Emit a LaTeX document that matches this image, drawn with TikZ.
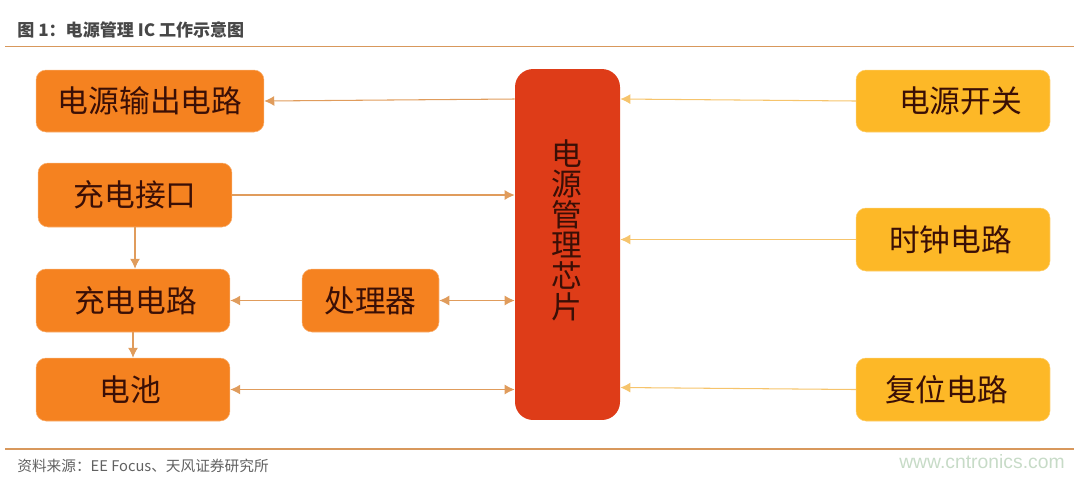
\documentclass[tikz,border=0pt]{standalone}
\usepackage{fontspec}
\usepackage{xcolor}
\setmainfont{Noto Sans CJK SC}
\newfontfamily\webfont{Liberation Sans}
\usetikzlibrary{arrows.meta}
\usetikzlibrary{calc}
\definecolor{boxorange}{HTML}{F58220}
\definecolor{boxyellow}{HTML}{FDB827}
\definecolor{chipred}{HTML}{DE3C18}
\definecolor{linetan}{HTML}{E09C5C}
\definecolor{lineyellow}{HTML}{F6C46C}
\definecolor{rulecol}{HTML}{D8985C}
\definecolor{labeldark}{HTML}{3A0F06}
\tikzset{
    block/.style={rectangle, rounded corners=0.2cm, text=labeldark, font=\fontsize{17.5}{20}\selectfont, inner sep=0pt},
    orangebox/.style={block, fill=boxorange, draw=boxorange!65, line width=0.3pt},
    yellowbox/.style={block, fill=boxyellow, draw=boxyellow!70, line width=0.3pt},
    link/.style={draw=linetan, line width=0.6pt, -{Latex[length=0.2cm,width=0.2cm]}},
    biglink/.style={link, {Latex[length=0.2cm,width=0.2cm]}-{Latex[length=0.2cm,width=0.2cm]}},
    powerlink/.style={link, draw=lineyellow, -{Latex[length=0.2cm,width=0.2cm,fill=lineyellow]}},
    rule/.style={draw=rulecol, line width=1.1pt}
}
\begin{document}
\begin{tikzpicture}[x=0.02cm,y=-0.02cm]
    \useasboundingbox (0,0) rectangle (1084,478);

    % Heading and source line
    \node[anchor=west, inner sep=0pt, text=black!72, font=\fontsize{9.7}{11}\selectfont\bfseries] (title) at (17,30) {图 1：电源管理 IC 工作示意图};
    \coordinate (topl) at (5,46.5);
    \coordinate (topr) at (1074,46.5);
    \draw[rule] (topl) -- (topr);
    \coordinate (botl) at (5,449);
    \coordinate (botr) at (1074,449);
    \draw[rule] (botl) -- (botr);
    \node[anchor=west, inner sep=0pt, text=black!62, font=\fontsize{8.35}{10}\selectfont] (source) at (17,466) {资料来源：EE Focus、天风证券研究所};
    \node[anchor=east, inner sep=0pt, text=green!35!black!22, font=\fontsize{11}{12}\selectfont\webfont] (web) at (1065,462) {www.cntronics.com};

    % Chip in the middle
    \node[rectangle, rounded corners=0.36cm, fill=chipred, minimum width=2.1cm, minimum height=7.02cm, inner sep=0pt] (chip) at (567.5,244.5) {};
    \node[text=labeldark, font=\fontsize{17.5}{17.4}\selectfont, align=center, inner sep=0pt] (chiptext) at (567,230) {电\\源\\管\\理\\芯\\片};

    % Left column
    \node[orangebox, minimum width=4.56cm, minimum height=1.24cm] (output) at (150,101) {电源输出电路};
    \node[orangebox, minimum width=3.88cm, minimum height=1.28cm] (port) at (135,195) {充电接口};
    \node[orangebox, minimum width=3.88cm, minimum height=1.26cm] (charger) at (133,300.5) {\hspace{0.1cm}充电电路};
    \node[orangebox, minimum width=2.74cm, minimum height=1.26cm] (cpu) at (370.5,300.5) {处理器};
    \node[orangebox, minimum width=3.88cm, minimum height=1.26cm] (battery) at (133,389.5) {\hspace{-0.1cm}电池};

    % Right column
    \node[yellowbox, minimum width=3.88cm, minimum height=1.24cm] (switch) at (953,101) {\hspace{0.3cm}电源开关};
    \node[yellowbox, minimum width=3.88cm, minimum height=1.26cm] (clock) at (953,239.5) {\hspace{-0.1cm}时钟电路};
    \node[yellowbox, minimum width=3.88cm, minimum height=1.26cm] (reset) at (953,389.5) {\hspace{-0.26cm}复位电路};

    % Links on the left
    \draw[link] ([yshift=0.04cm]chip.west |- output.east) -- (output.east);
    \draw[link] (port.east) -- (chip.west |- port.east);
    \draw[link] (port.south) -- (port.south |- charger.north);
    \draw[link] (cpu.west) -- (charger.east);
    \draw[link] (charger.south) -- (battery.north);
    \draw[biglink] (cpu.east) -- (chip.west |- cpu.east);
    \draw[biglink] (battery.east) -- (chip.west |- battery.east);

    % Links on the right
    \draw[powerlink] (switch.west) -- ([yshift=0.04cm]chip.east |- switch.west);
    \draw[powerlink] (clock.west) -- (chip.east |- clock.west);
    \draw[powerlink] (reset.west) -- ([yshift=0.04cm]chip.east |- reset.west);
\end{tikzpicture}
\end{document}
